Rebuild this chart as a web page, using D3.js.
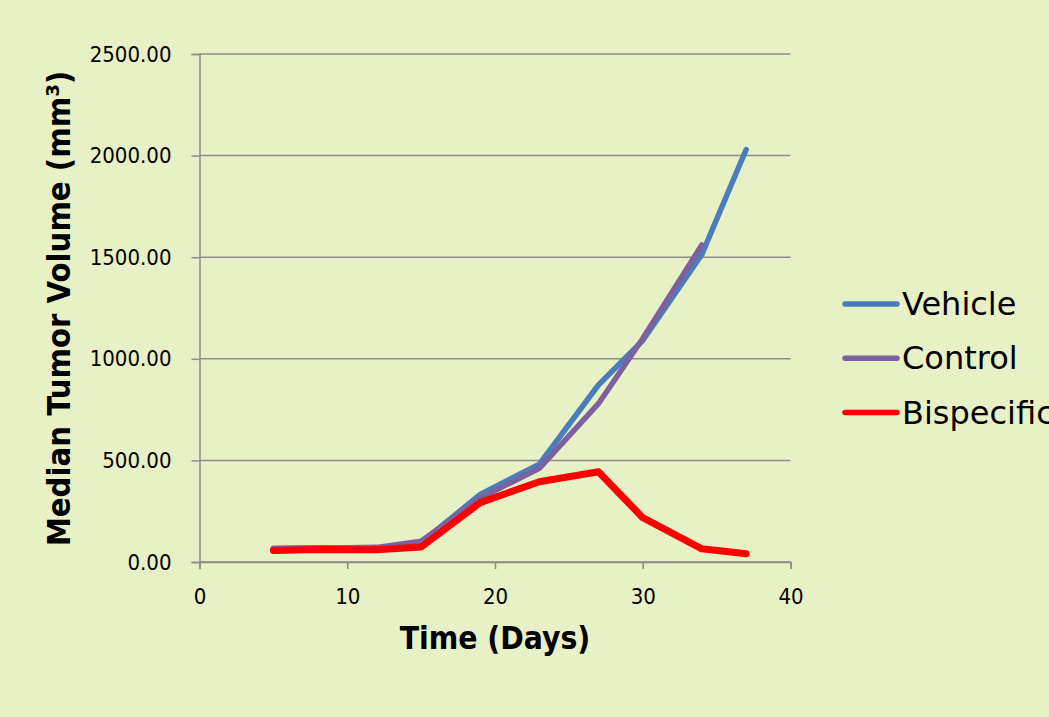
<!DOCTYPE html>
<html>
<head>
<meta charset="utf-8">
<script src="https://cdn.jsdelivr.net/npm/d3@7"></script>
<style>
  html, body { margin: 0; padding: 0; background: #e8f0c5; }
  svg { display: block; }
</style>
</head>
<body>
<svg id="chart" width="1049" height="717"></svg>
<script>
// Study days and median tumour volumes (mm³) per treatment group
const days = [5, 8, 12, 15, 19, 23, 27, 30, 34, 37];
const vehicle = [68, 70, 68, 95, 333, 481, 871, 1090, 1514, 2030];
const control = [65, 68, 72, 102, 315, 461, 779, 1100, 1560];
const bispecific = [57, 62, 60, 74, 292, 395, 444, 218, 65, 41];

const seriesNames = ["Vehicle", "Control", "Bispecific"];
const seriesColors = ["#4a7ebb", "#7d60a0", "#ff0000"];
const seriesWidths = [5.5, 5.5, 7];
const seriesValues = [vehicle, control, bispecific];

const xTicks = [0, 10, 20, 30, 40];
const yTicks = [0, 500, 1000, 1500, 2000, 2500];

(function drawChart() {
  const svg = d3.select("#chart");
  const W = 1049, H = 717;
  svg.append("rect").attr("width", W).attr("height", H).attr("fill", "#e8f0c5");

  const plotLeft = 199.5, plotRight = 790.5, plotTop = 54, plotBottom = 562;
  const x = d3.scaleLinear().domain([0, 40]).range([plotLeft, plotRight]);
  const y = d3.scaleLinear().domain([0, 2500]).range([plotBottom, plotTop]);

  const condFont = "'DejaVu Sans Condensed', 'DejaVu Sans', sans-serif";
  const sansFont = "'DejaVu Sans', sans-serif";

  // horizontal gridlines
  svg.append("g")
    .selectAll("line")
    .data(yTicks)
    .join("line")
    .attr("x1", plotLeft).attr("x2", plotRight)
    .attr("y1", d => y(d)).attr("y2", d => y(d))
    .attr("stroke", "#8c8c8c").attr("stroke-width", 1.5);

  // y axis
  const yAxis = svg.append("g")
    .attr("transform", `translate(${plotLeft},0)`)
    .call(d3.axisLeft(y).tickValues(yTicks).tickSize(8).tickPadding(20)
      .tickFormat(d => d.toFixed(2)));
  yAxis.select(".domain").attr("stroke", "#8c8c8c").attr("stroke-width", 1.5);
  yAxis.selectAll(".tick line").attr("stroke", "#8c8c8c").attr("stroke-width", 1.5);
  yAxis.selectAll(".tick text")
    .attr("font-family", condFont).attr("font-size", 22).attr("fill", "#000");

  // x axis
  const xAxis = svg.append("g")
    .attr("transform", `translate(0,${plotBottom})`)
    .call(d3.axisBottom(x).tickValues(xTicks).tickSize(7).tickPadding(19));
  xAxis.select(".domain").attr("stroke", "#8c8c8c").attr("stroke-width", 1.5);
  xAxis.selectAll(".tick line").attr("stroke", "#8c8c8c").attr("stroke-width", 1.5);
  xAxis.selectAll(".tick text")
    .attr("font-family", condFont).attr("font-size", 22).attr("fill", "#000");

  // axis titles
  svg.append("text")
    .attr("x", 495).attr("y", 649)
    .attr("text-anchor", "middle")
    .attr("font-family", condFont).attr("font-weight", "bold").attr("font-size", 31.5)
    .text("Time (Days)");

  svg.append("text")
    .attr("transform", "translate(70,308.5) rotate(-90)")
    .attr("text-anchor", "middle")
    .attr("font-family", condFont).attr("font-weight", "bold").attr("font-size", 32.5)
    .text("Median Tumor Volume (mm³)");

  // series lines
  const line = d3.line()
    .x((d, i) => x(days[i]))
    .y(d => y(d));

  seriesValues.forEach((vals, k) => {
    svg.append("path")
      .datum(vals)
      .attr("d", line)
      .attr("fill", "none")
      .attr("stroke", seriesColors[k])
      .attr("stroke-width", seriesWidths[k])
      .attr("stroke-linejoin", "round")
      .attr("stroke-linecap", "round");
  });

  // legend
  const legend = svg.append("g");
  seriesNames.forEach((name, k) => {
    const ly = 304 + k * 54.3;
    legend.append("line")
      .attr("x1", 845).attr("x2", 897)
      .attr("y1", ly).attr("y2", ly)
      .attr("stroke", seriesColors[k]).attr("stroke-width", 5.5)
      .attr("stroke-linecap", "round");
    legend.append("text")
      .attr("x", 902).attr("y", ly + 11)
      .attr("font-family", sansFont).attr("font-size", 32).attr("fill", "#000")
      .text(name);
  });
})();
</script>
</body>
</html>
